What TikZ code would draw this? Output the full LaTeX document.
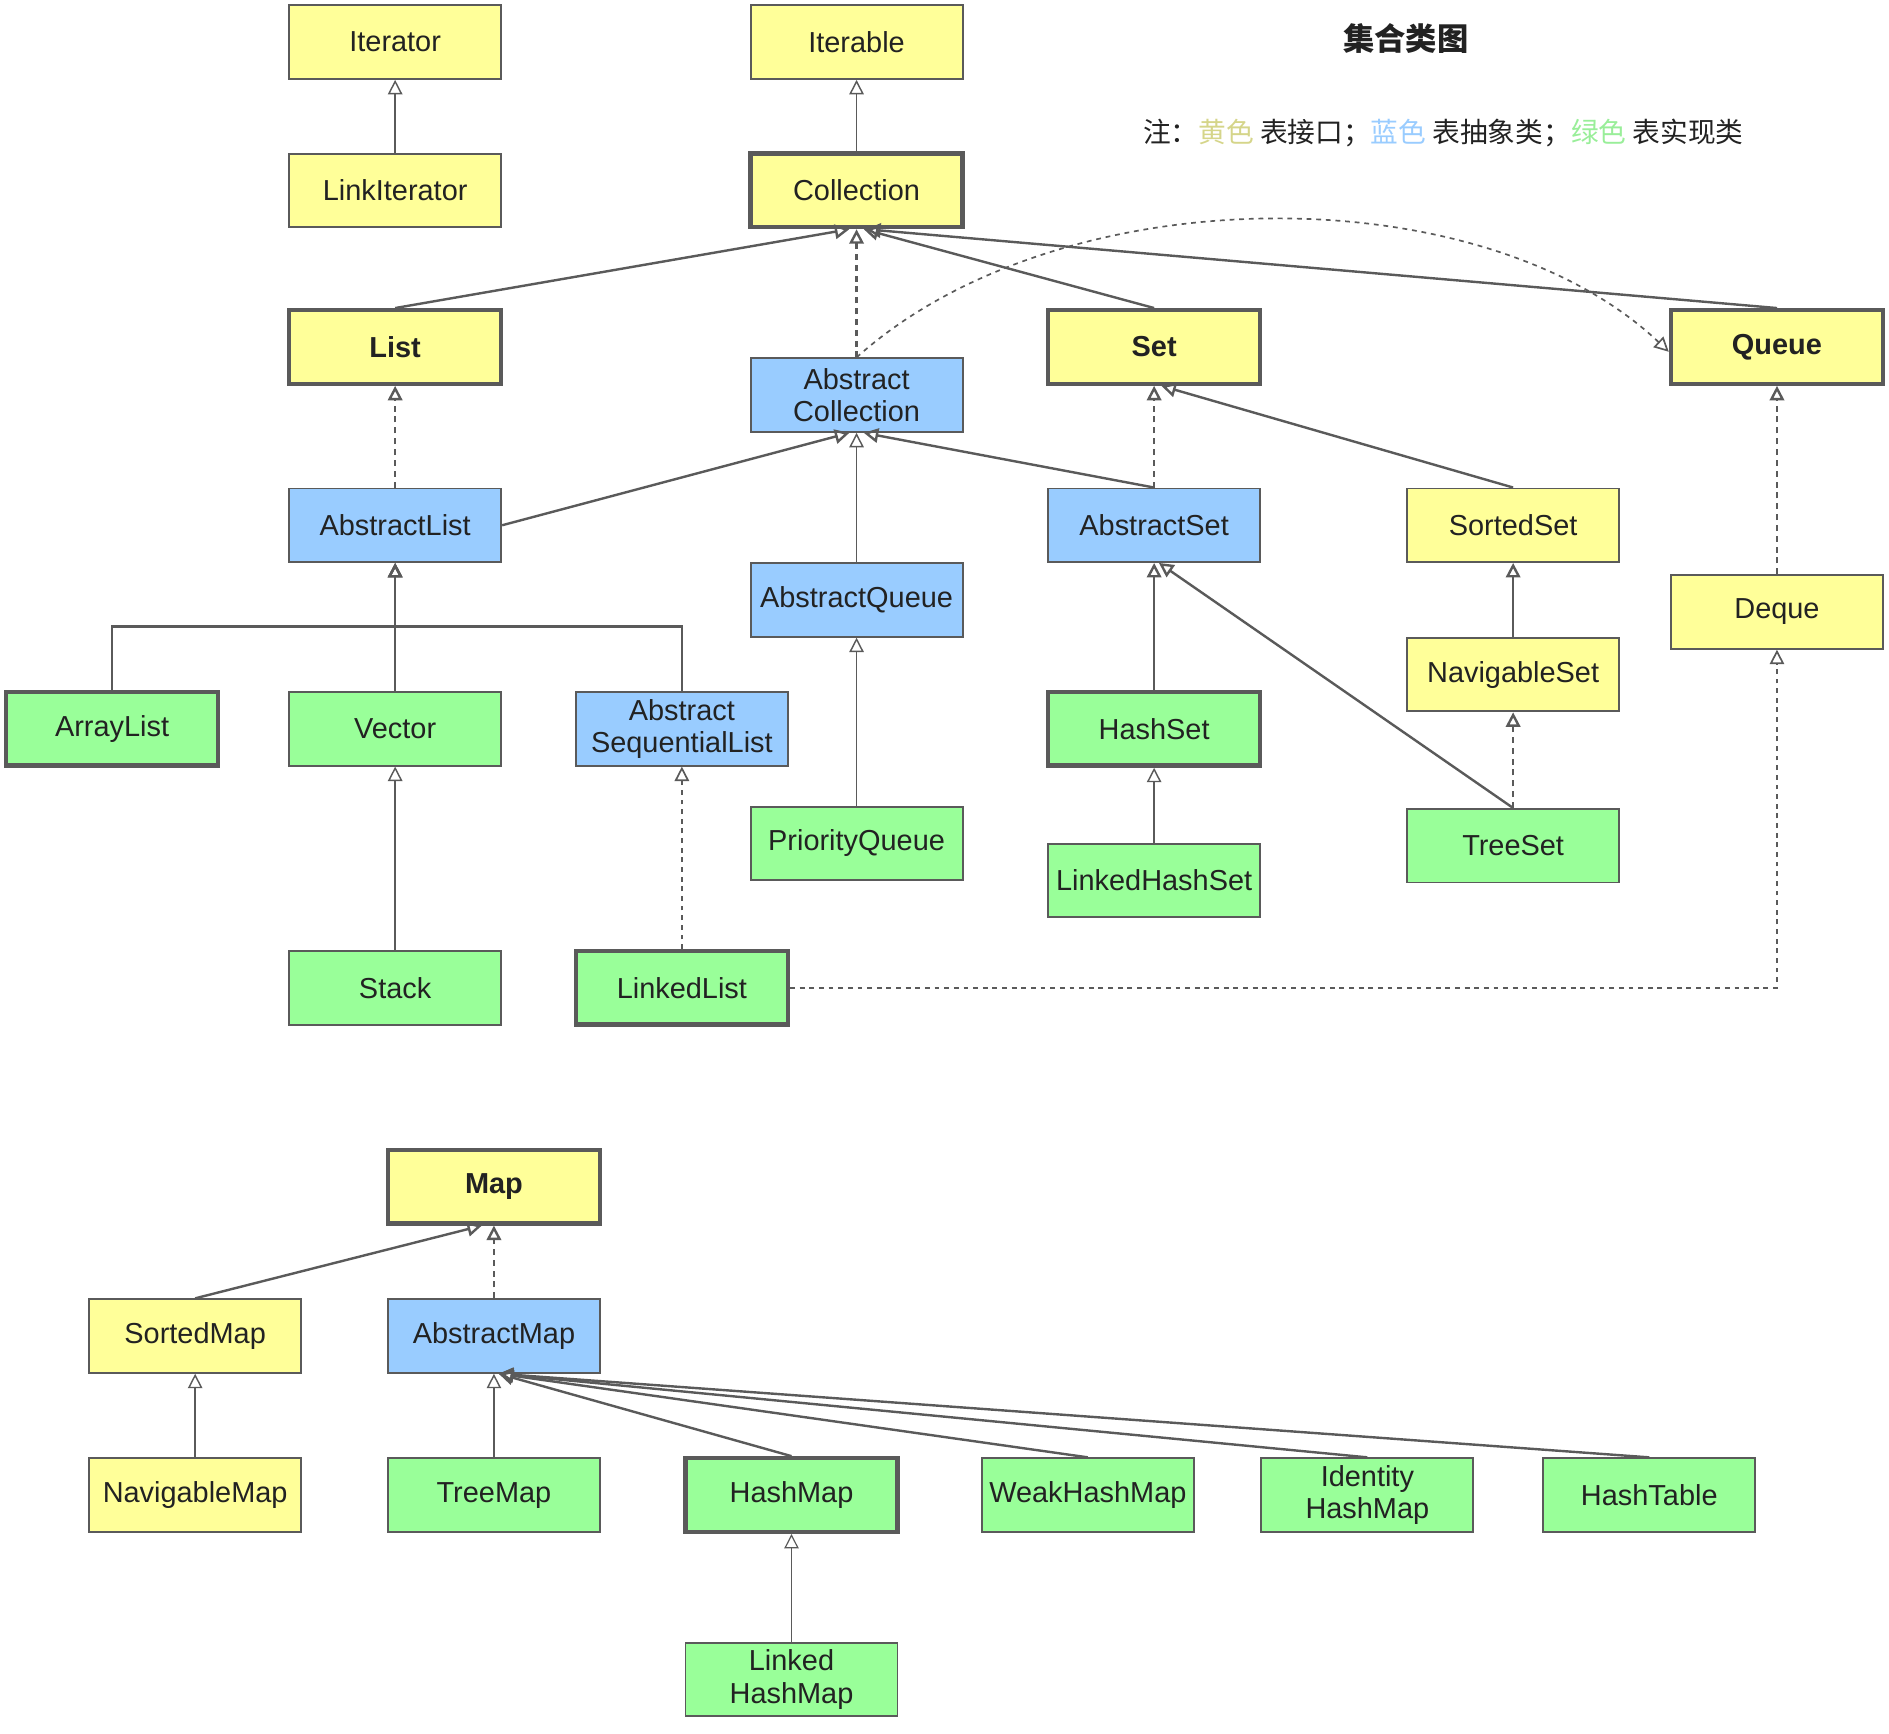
\documentclass[tikz,border=0pt]{standalone}
\usepackage{fontspec}
\setmainfont{Liberation Sans}
\newfontfamily\cjk{Noto Sans CJK SC}
\usetikzlibrary{arrows.meta}
\definecolor{ifc}{HTML}{FFFF99}
\definecolor{abc}{HTML}{99CCFF}
\definecolor{imc}{HTML}{99FF99}
\definecolor{bord}{HTML}{5A5A5A}
\definecolor{txt}{HTML}{222222}
\definecolor{noteY}{HTML}{D5D58A}
\definecolor{noteB}{HTML}{99CCFF}
\definecolor{noteG}{HTML}{99EE99}
\begin{document}
\begin{tikzpicture}[x=0.5pt,y=-0.5pt,
  box/.style={draw=bord,line width=0.8pt,minimum width=88pt,minimum height=30.5pt,inner sep=0pt,align=center,text=txt,font=\fontsize{12}{13.5}\selectfont},
  thickbox/.style={line width=1.8pt},
  ifbox/.style={box,fill=ifc},
  abbox/.style={box,fill=abc},
  imbox/.style={box,fill=imc},
  bld/.style={font=\fontsize{12}{13.5}\selectfont\bfseries},
  inh/.style={draw=bord,line width=1pt,-{Triangle[open,width=6pt,length=6pt]}},
  thininh/.style={inh,line width=0.6pt},
  impl/.style={inh,dash pattern=on 2.5pt off 2pt},
  dotimpl/.style={inh,line width=0.7pt,dash pattern=on 2pt off 2pt}]
\useasboundingbox (0,0) rectangle (1568,1439);
% title and note
\node[font=\cjk\fontsize{13}{15}\selectfont\bfseries,text=txt] (title) at (1167,32) {集合类图};
\node[font=\cjk\fontsize{11.5}{14}\selectfont,text=txt,inner sep=0pt] (note) at (1198,110) {注：{\color{noteY}黄色} 表接口；{\color{noteB}蓝色} 表抽象类；{\color{noteG}绿色} 表实现类};
% collection hierarchy
\node[ifbox] (Iterator) at (328,35) {Iterator};
\node[ifbox] (Iterable) at (711,35) {Iterable};
\node[ifbox] (LinkIterator) at (328,158) {LinkIterator};
\node[ifbox,thickbox] (Collection) at (711,158) {Collection};
\node[ifbox,thickbox,bld] (List) at (328,288) {List};
\node[abbox] (AbsColl) at (711,328) {Abstract\\Collection};
\node[ifbox,thickbox,bld] (Set) at (958,288) {Set};
\node[ifbox,thickbox,bld] (Queue) at (1475,288) {Queue};
\node[abbox] (AbsList) at (328,436) {AbstractList};
\node[abbox] (AbsSet) at (958,436) {AbstractSet};
\node[ifbox] (SortedSet) at (1256,436) {SortedSet};
\node[abbox] (AbsQueue) at (711,498) {AbstractQueue};
\node[ifbox] (Deque) at (1475,508) {Deque};
\node[ifbox] (NavSet) at (1256,560) {NavigableSet};
\node[imbox,thickbox] (ArrayList) at (93,605) {ArrayList};
\node[imbox] (Vector) at (328,605) {Vector};
\node[abbox] (AbsSeq) at (566,605) {Abstract\\SequentialList};
\node[imbox,thickbox] (HashSet) at (958,605) {HashSet};
\node[imbox] (PQueue) at (711,700) {PriorityQueue};
\node[imbox] (TreeSet) at (1256,702) {TreeSet};
\node[imbox] (LHSet) at (958,731) {LinkedHashSet};
\node[imbox] (Stack) at (328,820) {Stack};
\node[imbox,thickbox] (LinkedList) at (566,820) {LinkedList};
% map hierarchy
\node[ifbox,thickbox,bld] (Map) at (410,985) {Map};
\node[ifbox] (SortedMap) at (162,1109) {SortedMap};
\node[abbox] (AbsMap) at (410,1109) {AbstractMap};
\node[ifbox] (NavMap) at (162,1241) {NavigableMap};
\node[imbox] (TreeMap) at (410,1241) {TreeMap};
\node[imbox,thickbox] (HashMap) at (657,1241) {HashMap};
\node[imbox] (WeakHashMap) at (903,1241) {WeakHashMap};
\node[imbox] (IdHashMap) at (1135,1241) {Identity\\HashMap};
\node[imbox] (HashTable) at (1369,1241) {HashTable};
\node[imbox] (LHMap) at (657,1394) {Linked\\HashMap};
\coordinate (busL) at (328,520);
% edges
\draw[thininh] (LinkIterator) -- (Iterator);
\draw[thininh] (Collection) -- (Iterable);
\draw[inh] (List.north) -- ([xshift=-3pt]Collection.south);
\draw[impl] (AbsColl.north) -- (Collection.south);
\draw[inh] (Set.north) -- ([xshift=3pt]Collection.south);
\draw[inh] (Queue.north) -- ([xshift=4pt]Collection.south);
\draw[dotimpl] (AbsColl.north) .. controls (880,145) and (1230,145) .. ([yshift=-2pt]Queue.west);
\draw[impl] (AbsList.north) -- (List.south);
\draw[inh] (AbsList.east) -- ([xshift=-3pt]AbsColl.south);
\draw[thininh] (AbsQueue.north) -- (AbsColl.south);
\draw[inh] (AbsSet.north) -- ([xshift=3pt]AbsColl.south);
\draw[impl] (AbsSet.north) -- (Set.south);
\draw[inh] (SortedSet.north) -- ([xshift=3pt]Set.south);
\draw[impl] (Deque.north) -- (Queue.south);
\draw[inh] (NavSet.north) -- (SortedSet.south);
\draw[inh] (ArrayList.north) |- (busL) -- (AbsList.south);
\draw[inh] (Vector.north) -- (AbsList.south);
\draw[inh] (AbsSeq.north) |- (busL) -- (AbsList.south);
\draw[inh] (HashSet.north) -- (AbsSet.south);
\draw[inh] (TreeSet.north) -- ([xshift=2pt]AbsSet.south);
\draw[impl] (TreeSet.north) -- (NavSet.south);
\draw[thininh] (PQueue.north) -- (AbsQueue.south);
\draw[thininh] (LHSet.north) -- (HashSet.south);
\draw[thininh] (Stack.north) -- (Vector.south);
\draw[dotimpl] (LinkedList.north) -- (AbsSeq.south);
\draw[dotimpl] (LinkedList.east) -| (Deque.south);
\draw[inh] (SortedMap.north) -- ([xshift=-5pt]Map.south);
\draw[impl] (AbsMap.north) -- (Map.south);
\draw[thininh] (NavMap.north) -- (SortedMap.south);
\draw[thininh] (TreeMap.north) -- (AbsMap.south);
\draw[inh] (HashMap.north) -- ([xshift=2pt]AbsMap.south);
\draw[inh] (WeakHashMap.north) -- ([xshift=2pt]AbsMap.south);
\draw[inh] (IdHashMap.north) -- ([xshift=2pt]AbsMap.south);
\draw[inh] (HashTable.north) -- ([xshift=2pt]AbsMap.south);
\draw[thininh,line width=0.5pt] (LHMap.north) -- (HashMap.south);
\end{tikzpicture}
\end{document}
